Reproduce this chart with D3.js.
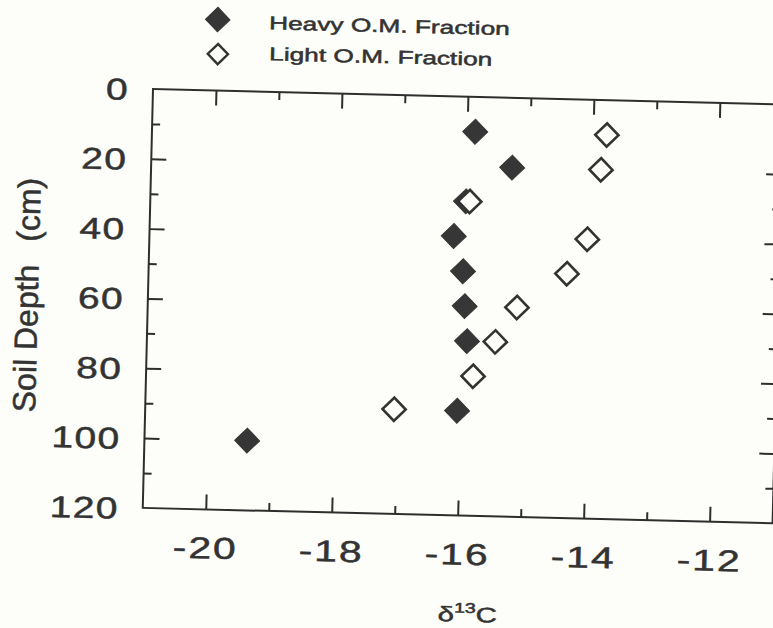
<!DOCTYPE html>
<html>
<head>
<meta charset="utf-8">
<script src="https://cdn.jsdelivr.net/npm/d3@7"></script>
<style>
  html, body { margin: 0; padding: 0; background: #fdfdf9; }
  svg { display: block; }
  text { font-family: "Liberation Sans", Arial, Helvetica, sans-serif; fill: #333; stroke: #333; stroke-width: 0.5px; }
</style>
</head>
<body>
<svg id="chart" width="773" height="628"></svg>
<script>
// ---- data ----
const heavyDepth = [10, 20, 30, 40, 50, 60, 70, 90, 100];
const heavyD13C  = [-15.87, -15.27, -15.99, -16.17, -16.01, -15.97, -15.92, -16.05, -19.37];
const lightDepth = [10, 20, 30, 40, 50, 60, 70, 80, 90];
const lightD13C  = [-13.78, -13.86, -15.93, -14.05, -14.36, -15.14, -15.47, -15.81, -17.05];
const xMajorTicks = [-20, -18, -16, -14, -12];
const xMinorTicks = [-19, -17, -15, -13];
const yMajorTicks = [0, 20, 40, 60, 80, 100, 120];
const yMinorTicks = [10, 30, 50, 70, 90, 110];
const seriesNames = ["Heavy O.M. Fraction", "Light O.M. Fraction"];
const xTitle = ["δ", "13", "C"];
const yTitle = ["Soil Depth", "(cm)"];

// ---- layout ----
const W = 630, H = 419;
const ink = "#2e2e2e";
const svg = d3.select("#chart");
svg.append("rect").attr("width", 773).attr("height", 628).attr("fill", "#fdfdf9");

// the scanned figure is slightly rotated
const g = svg.append("g").attr("transform", "translate(153,89) rotate(1.4)");

const x = d3.scaleLinear().domain([-21, -11]).range([0, W]);
const y = d3.scaleLinear().domain([0, 120]).range([0, H]);

// frame
g.append("rect").attr("x", 0).attr("y", 0).attr("width", W).attr("height", H)
  .attr("fill", "none").attr("stroke", ink).attr("stroke-width", 2);

function styleAxis(sel) {
  sel.select(".domain").remove();
  sel.selectAll(".tick line").attr("stroke", ink).attr("stroke-width", 2);
}

// bottom axis major with labels
const bx = g.append("g").attr("transform", `translate(0,${H})`)
  .call(d3.axisBottom(x).tickValues(xMajorTicks).tickSize(-15).tickFormat(d => d3.format("d")(d).replace("−", "-")));
styleAxis(bx);
bx.selectAll(".tick text")
  .attr("y", 49).attr("dy", 0)
  .attr("font-size", 30)
  .attr("letter-spacing", 1.5)
  .attr("transform", "scale(1.36,1)")
  .attr("fill", "#333");
const bxm = g.append("g").attr("transform", `translate(0,${H})`)
  .call(d3.axisBottom(x).tickValues(xMinorTicks).tickSize(-8).tickFormat(""));
styleAxis(bxm);

// top axis
const tx = g.append("g").call(d3.axisTop(x).tickValues(xMajorTicks).tickSize(-15).tickFormat(""));
styleAxis(tx);
const txm = g.append("g").call(d3.axisTop(x).tickValues(xMinorTicks).tickSize(-8).tickFormat(""));
styleAxis(txm);

// left axis
const ly = g.append("g")
  .call(d3.axisLeft(y).tickValues(yMajorTicks).tickSize(-15).tickFormat(d3.format("d")));
styleAxis(ly);
ly.selectAll(".tick line").filter(d => d === 0 || d === 120).remove();
ly.selectAll(".tick text")
  .attr("x", -24 / 1.3).attr("dy", "0.36em")
  .attr("font-size", 30)
  .attr("letter-spacing", 1)
  .attr("transform", "scale(1.3,1)")
  .attr("fill", "#333");
const lym = g.append("g").call(d3.axisLeft(y).tickValues(yMinorTicks).tickSize(-8).tickFormat(""));
styleAxis(lym);

// right axis
const ry = g.append("g").attr("transform", `translate(${W},0)`)
  .call(d3.axisRight(y).tickValues(yMajorTicks.filter(d => d > 0 && d < 120)).tickSize(-15).tickFormat(""));
styleAxis(ry);
const rym = g.append("g").attr("transform", `translate(${W},0)`)
  .call(d3.axisRight(y).tickValues(yMinorTicks).tickSize(-8).tickFormat(""));
styleAxis(rym);

// markers
const filledSym = d3.symbol().type(d3.symbolSquare).size(312);
const openSym = d3.symbol().type(d3.symbolSquare).size(270);

const heavy = heavyDepth.map((d, i) => ({ depth: d, v: heavyD13C[i] }));
const light = lightDepth.map((d, i) => ({ depth: d, v: lightD13C[i] }));

g.append("g").selectAll("path").data(heavy).join("path")
  .attr("d", filledSym)
  .attr("transform", d => `translate(${x(d.v)},${y(d.depth)}) rotate(45)`)
  .attr("fill", "#363636").attr("stroke", "#363636").attr("stroke-width", 1);

g.append("g").selectAll("path").data(light).join("path")
  .attr("d", openSym)
  .attr("transform", d => `translate(${x(d.v)},${y(d.depth)}) rotate(45)`)
  .attr("fill", "#fdfdf9").attr("stroke", "#333").attr("stroke-width", 2.6);

// legend
const leg = g.append("g");
leg.append("path").attr("d", d3.symbol().type(d3.symbolSquare).size(300))
  .attr("transform", "translate(63,-71) rotate(45)")
  .attr("fill", "#363636").attr("stroke", "#363636").attr("stroke-width", 1);
leg.append("path").attr("d", d3.symbol().type(d3.symbolSquare).size(205))
  .attr("transform", "translate(64,-36.5) rotate(45)")
  .attr("fill", "#fdfdf9").attr("stroke", "#333").attr("stroke-width", 2.4);
leg.append("text").attr("transform", "translate(114.5,-62.5) scale(1.42,1)")
  .attr("font-size", 18.5).text(seriesNames[0]);
leg.append("text").attr("transform", "translate(115.3,-31.5) scale(1.42,1)")
  .attr("font-size", 18.5).text(seriesNames[1]);

// x title
const xt = g.append("text").attr("transform", "translate(327,525) scale(1.4,1)")
  .attr("text-anchor", "middle").attr("font-size", 21);
xt.append("tspan").text(xTitle[0]);
xt.append("tspan").attr("font-size", 14).attr("dy", -9).text(xTitle[1]);
xt.append("tspan").attr("dy", 9).text(xTitle[2]);

// y title
const yt = g.append("text").attr("transform", "translate(-110,209) rotate(-90)")
  .attr("text-anchor", "middle").attr("font-size", 32);
yt.append("tspan").text(yTitle[0]);
yt.append("tspan").attr("dx", 14).text(" " + yTitle[1]);
</script>
</body>
</html>
